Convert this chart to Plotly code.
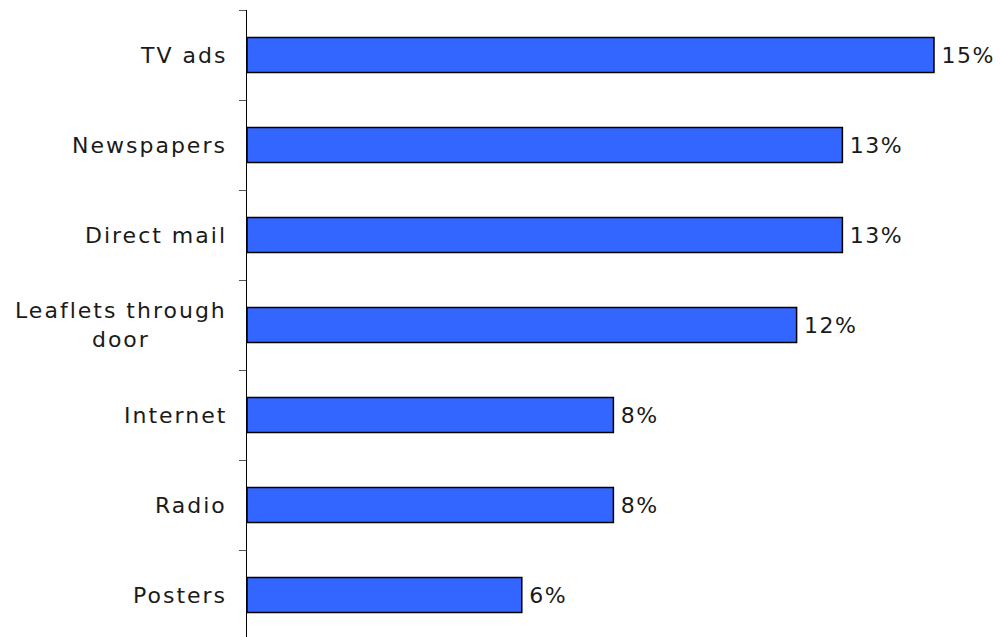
import plotly.graph_objects as go

# Data (bottom to top)
categories = ["Posters", "Radio", "Internet", "Leaflets through<br>door", "Direct mail", "Newspapers", "TV ads"]
values = [6, 8, 8, 12, 13, 13, 15]

# page body has an 8px default margin
W, H = 993, 629
ml, mr, mt, mb = 239, 10, 2, 0
px_per_pct = 45.8
plot_w = W - ml - mr
plot_h = H - mt - mb
xmax = plot_w / px_per_pct
ytop = len(categories) - 0.5
ybot = ytop - plot_h / 90.0

SP = "letter-spacing:2px"

fig = go.Figure()
fig.add_trace(go.Bar(
    y=categories,
    x=values,
    orientation="h",
    width=0.39,
    marker=dict(color="#3366FF", line=dict(color="#000000", width=1.5)),
    texttemplate="\u2009<span style='letter-spacing:1.5px'>%{x}%</span>",
    textposition="outside",
    cliponaxis=False,
    textfont=dict(family="DejaVu Sans", size=22, color="#1a1a1a"),
    hoverinfo="skip",
))

for c in categories:
    txt = "<br>".join(f"<span style='{SP}'>{part}</span>" for part in c.split("<br>"))
    fig.add_annotation(
        x=0, y=c, xref="x", yref="y",
        text=txt, showarrow=False,
        xanchor="right", yanchor="middle", align="center",
        xshift=-18,
        font=dict(family="DejaVu Sans", size=22, color="#1a1a1a"),
    )

fig.update_layout(
    width=W, height=H,
    margin=dict(l=ml, r=mr, t=mt, b=mb, autoexpand=False),
    paper_bgcolor="white",
    plot_bgcolor="white",
    showlegend=False,
    xaxis=dict(visible=False, range=[0, xmax], fixedrange=True, automargin=False),
    yaxis=dict(
        type="category",
        categoryorder="array",
        categoryarray=categories,
        range=[ybot, ytop],
        automargin=False,
        showline=True, linecolor="#000000", linewidth=1,
        ticks="outside", tickson="boundaries", ticklen=7, tickcolor="#555555", tickwidth=1,
        showticklabels=False,
        showgrid=False, zeroline=False,
    ),
)

fig.write_html("out.html")
